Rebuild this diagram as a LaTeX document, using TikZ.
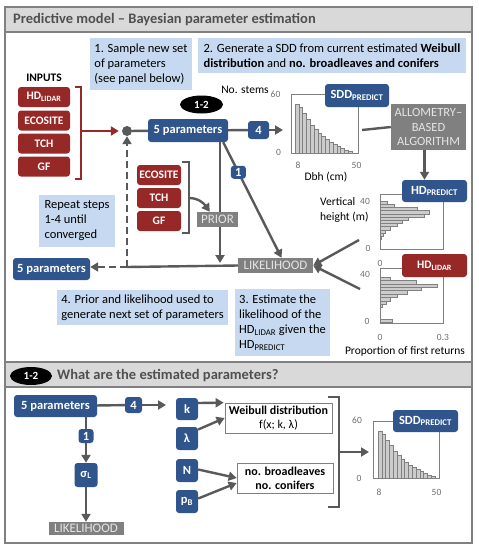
\documentclass[tikz,border=0pt]{standalone}
\usepackage{fontspec}
\setmainfont{Carlito}
\usetikzlibrary{arrows.meta,calc,shapes.geometric}
\pgfdeclarelayer{background}
\pgfsetlayers{background,main}
\definecolor{myblue}{RGB}{47,85,140}
\definecolor{myred}{RGB}{150,40,40}
\definecolor{mygray}{RGB}{128,128,128}
\definecolor{lblue}{RGB}{198,217,240}
\definecolor{titlegray}{RGB}{217,217,217}
\definecolor{darkline}{RGB}{89,89,89}
\definecolor{barfill}{RGB}{204,204,204}
\definecolor{ticklab}{RGB}{110,110,110}
\definecolor{titletext}{RGB}{80,80,80}
\newcommand\fsz[2]{\fontsize{#1}{#2}\selectfont}
\tikzset{
  bluebox/.style={fill=myblue, text=white, font=\bfseries\fsz{12.5}{14}, rounded corners=3pt, inner sep=0pt, align=center},
  redbox/.style={fill=myred, text=white, font=\bfseries\fsz{11.5}{13}, rounded corners=3pt, inner sep=0pt},
  graybox/.style={fill=mygray, text=white!90!black, font=\fsz{12.5}{14.5}, inner sep=0pt, align=center},
  notebox/.style={fill=lblue, font=\fsz{12.5}{15}, inner xsep=4pt, inner ysep=0pt, align=left},
  arr/.style={draw=darkline, line width=2.4pt, -{Triangle[length=8pt,width=9pt]}},
  redarr/.style={draw=myred, line width=2.4pt, -{Triangle[length=8pt,width=9pt]}},
  ln/.style={draw=darkline, line width=2.4pt},
  dashedarr/.style={arr, dash pattern=on 7pt off 4pt},
  ticklbl/.style={text=ticklab, font=\fsz{9.5}{11}, inner sep=0pt},
  axlab/.style={font=\fsz{11.5}{15}, inner sep=0pt, align=left},
  histframe/.style={draw=mygray, line width=0.7pt},
  histbar/.style={fill=barfill, draw=mygray, line width=0.4pt},
  whitebox/.style={draw=mygray, fill=white, line width=0.7pt, font=\fsz{12}{14}, align=center, inner sep=0pt},
  blackell/.style={ellipse, fill=black, text=white, font=\bfseries\fsz{11}{13}, inner sep=0pt},
  paneltitle/.style={text=titletext, font=\bfseries\fsz{14.5}{16}, inner sep=0pt, anchor=west},
}
\begin{document}
\begin{tikzpicture}[x=1pt,y=-1pt]
\useasboundingbox (0,0) rectangle (479,550);
% panels
\fill[titlegray] (5,7) rectangle (472,32);
\fill[titlegray] (5,362) rectangle (472,387);
\draw[mygray, line width=1.8pt] (5,7) rectangle (472,543);
\draw[mygray, line width=1.8pt] (5,32) -- (472,32) (5,362) -- (472,362) (5,387) -- (472,387);
\node[paneltitle] (t1) at (13,20) {Predictive model – Bayesian parameter estimation};
\node[blackell, minimum width=42pt, minimum height=18pt] (e12b) at (31,376) {1-2};
\node[paneltitle] (t2) at (57,376) {What are the estimated parameters?};

% notes
\node[notebox, minimum width=102pt, minimum height=52pt] (n1) at (141,64) {1. Sample new set\\of parameters\\(see panel below)};
\node[notebox, minimum width=268pt, minimum height=35pt] (n2) at (332,55.5) {2. Generate a SDD from current estimated \textbf{Weibull}\\\textbf{distribution} and \textbf{no. broadleaves and conifers}};
\node[notebox, minimum width=76pt, minimum height=52pt] (nrep) at (77,221) {Repeat steps\\1-4 until\\converged};
\node[notebox, minimum width=171pt, minimum height=35pt] (n4) at (142.5,307.5) {4. Prior and likelihood used to\\generate next set of parameters};
\node[notebox, minimum width=95pt, minimum height=67pt] (n3) at (282.5,322.5) {3. Estimate the\\likelihood of the\\HD\textsubscript{LIDAR} given the\\HD\textsubscript{PREDICT}};

% histogram SDD (top)
\foreach \h [count=\i from 0] in {49,46,40,34,28,24,20,17,14,11,9,7,5,3,2}
  {\draw[histbar] (295+\i*3.8,153) rectangle ++(3.8,-\h);}
\draw[histframe] (291,94) rectangle (358,153);
% histogram SDD (bottom)
\foreach \h [count=\i from 0] in {47,44,38,33,27,23,19,16,13,11,9,7,5,3,2}
  {\draw[histbar] (378+\i*3.8,478) rectangle ++(3.8,-\h);}
\draw[histframe] (373,421) rectangle (439,478);
% height histogram predicted
\foreach \l [count=\i from 0] in {7,14,37,49,44,28,22,17,10,5,3,1}
  {\draw[histbar] (380,201+\i*3.2) rectangle ++(\l,3.2);}
\draw[histframe] (380,194) rectangle (443,249);
% height histogram lidar
\foreach \l [count=\i from 0] in {10,36,57,41,27,17,10,6,2}
  {\draw[histbar] (380,277+\i*3.4) rectangle ++(\l,3.4);}
\draw[histbar] (380,319) rectangle ++(12,3.5);
\draw[histframe] (380,268) rectangle (443,323);

% axis labels
\node[axlab] (nst) at (245,90) {No. stems};
\node[ticklbl] (s60) at (275.5,94) {60};
\node[ticklbl] (s0) at (278.5,152) {0};
\node[ticklbl] (s8) at (298,165) {8};
\node[ticklbl] (s50) at (356.5,165) {50};
\node[axlab] (dbh) at (326,177) {Dbh (cm)};
\node[axlab, anchor=north west] (vh) at (320,197) {Vertical\\height (m)};
\node[ticklbl] (v40a) at (365,201) {40};
\node[ticklbl] (v0a) at (368,248) {0};
\node[ticklbl] (x0a) at (380,263) {0};
\node[ticklbl] (v40b) at (365,274) {40};
\node[ticklbl] (v0b) at (367,321) {0};
\node[ticklbl] (x0b) at (380,337) {0};
\node[ticklbl] (x03) at (443,337) {0.3};
\node[axlab] (prop) at (405,351) {Proportion of first returns};
\node[ticklbl] (b60) at (357,420) {60};
\node[ticklbl] (b0) at (359,478) {0};
\node[ticklbl] (b8) at (379,492) {8};
\node[ticklbl] (b50) at (436.5,492) {50};

% inputs
\node[font=\bfseries\fsz{11.5}{13}, inner sep=0pt] (inp) at (44,78) {INPUTS};
\node[redbox, minimum width=52pt, minimum height=20pt] (hdin) at (44,97) {HD\textsubscript{LIDAR}};
\node[redbox, minimum width=52pt, minimum height=20pt] (eco1) at (44,120.5) {ECOSITE};
\node[redbox, minimum width=52pt, minimum height=20pt] (tch1) at (44,143.5) {TCH};
\node[redbox, minimum width=52pt, minimum height=20pt] (gf1) at (44,166.5) {GF};
\node[redbox, minimum width=44pt, minimum height=20pt] (eco2) at (159,175) {ECOSITE};
\node[redbox, minimum width=44pt, minimum height=20pt] (tch2) at (159,198) {TCH};
\node[redbox, minimum width=44pt, minimum height=20pt] (gf2) at (159,221) {GF};

% main nodes panel 1
\node[circle, fill=darkline, minimum size=10pt, inner sep=0pt] (dot) at (127,131) {};
\node[blackell, minimum width=43pt, minimum height=18pt] (e12a) at (201.5,104.5) {1-2};
\node[bluebox, minimum width=80pt, minimum height=23pt] (p5a) at (188,130.5) {5 parameters};
\node[bluebox, minimum width=21pt, minimum height=18pt] (b4a) at (258.5,130) {4};
\node[bluebox, minimum width=64pt, minimum height=23pt] (sddA) at (357,95.5) {SDD\textsubscript{PREDICT}};
\node[graybox, minimum width=75pt, minimum height=46pt] (allom) at (428.5,127) {ALLOMETRY–\\BASED\\ALGORITHM};
\node[bluebox, minimum width=65pt, minimum height=22pt] (hdp) at (434.5,191) {HD\textsubscript{PREDICT}};
\node[redbox, minimum width=65pt, minimum height=23pt] (hdl) at (434.5,265.5) {HD\textsubscript{LIDAR}};
\node[graybox, minimum width=41pt, minimum height=15pt, font=\fsz{13}{15}] (prior) at (217.5,219.5) {PRIOR};
\node[graybox, minimum width=75pt, minimum height=15pt, font=\fsz{13}{15}] (lik) at (275.5,265.5) {LIKELIHOOD};
\node[bluebox, minimum width=77pt, minimum height=22pt] (p5b) at (51.5,269) {5 parameters};

% panel 2 nodes
\node[bluebox, minimum width=83pt, minimum height=22pt] (p5c) at (55.5,406) {5 parameters};
\node[bluebox, minimum width=17pt, minimum height=16pt] (b4c) at (133.5,405) {4};
\node[bluebox, minimum width=15pt, minimum height=14pt] (b1c) at (86,436) {1};
\node[bluebox, minimum width=23pt, minimum height=24pt] (sig) at (86,475) {σ\textsubscript{L}};
\node[graybox, minimum width=75pt, minimum height=13pt, font=\fsz{13}{15}] (likC) at (86,528.5) {LIKELIHOOD};
\node[bluebox, minimum width=22pt, minimum height=22pt] (k) at (187,409) {k};
\node[bluebox, minimum width=22pt, minimum height=23pt] (lam) at (187,438.5) {λ};
\node[bluebox, minimum width=22pt, minimum height=23pt] (N) at (187,470.5) {N};
\node[bluebox, minimum width=22pt, minimum height=23pt] (pB) at (187,501.5) {p\textsubscript{B}};
\node[whitebox, minimum width=107pt, minimum height=30pt] (wb) at (278.5,418) {\textbf{Weibull distribution}\\f(x; k, λ)};
\node[whitebox, minimum width=96pt, minimum height=30pt] (nb) at (285,478) {\textbf{no. broadleaves}\\\textbf{no. conifers}};
\node[bluebox, minimum width=65pt, minimum height=22pt] (sddC) at (425.5,421) {SDD\textsubscript{PREDICT}};

% coordinates
\coordinate (brA) at (81,131);
\coordinate (h1tip) at (283,130);
\coordinate (prtip) at (220,263);
\coordinate (junc) at (127,267);
\coordinate (br2) at (189,198);
\coordinate (hline) at (362,130);
\coordinate (hA) at (359,240);
\coordinate (hB) at (360,289);
\coordinate (kt) at (166,405);
\coordinate (br3) at (339,452);
\coordinate (h3tip) at (369,452);
\coordinate (aS) at ($(allom.south)+(-4,0)$);
\coordinate (prN) at ($(prior.north west)+(13,0)$);

\begin{pgfonlayer}{background}
% brackets
\draw[myred, line width=2.4pt] (75,87) -- (81,87) -- (81,179) -- (75,179);
\draw[darkline, line width=2.2pt] (182,162) -- (189,162) -- (189,233) -- (182,233);
\draw[darkline, line width=2.2pt] (328,397) -- (339,397) -- (339,507) -- (328,507);
% panel 1 connectors
\draw[redarr, shorten >=3pt] (brA) -- (dot);
\draw[ln] (dot) -- (p5a);
\draw[ln] (p5a) -- (b4a);
\draw[arr] (b4a) -- (h1tip);
\draw[arr] ($(p5a.south east)+(-5,0)$) -- node[bluebox, minimum width=15pt, minimum height=13pt, pos=0.26] (b1a) {1} ($(lik.north)+(6,0)$);
\draw[arr] (p5a.south -| prtip) -- (prtip);
\draw[arr] (br2) to[out=0, in=125] (prN);
\draw[ln] (lik.west) -- (junc);
\draw[dashedarr] (junc) -- (junc -| p5b.east);
\draw[dashedarr] (junc) -- (dot);
\draw[ln] (hline) -- (allom.west);
\draw[arr] (aS) -- (aS |- hdp.north);
\draw[arr] (hA) -- (lik.east);
\draw[arr] (hB) -- (lik.east);
% panel 2 connectors
\draw[ln] (p5c) -- (b4c);
\draw[arr] (b4c) -- (kt);
\draw[ln] (b1c |- p5c.south) -- (b1c);
\draw[arr] (b1c) -- (sig);
\draw[arr] (sig) -- (likC);
\draw[arr] ($(k.east)+(0,-6)$) -- ($(wb.north west)+(-1,0)$);
\draw[arr] ($(lam.east)+(0,-9)$) -- (wb.west);
\draw[arr] ($(N.east)+(0,-1)$) -- (nb.west);
\draw[arr] ($(pB.east)+(0,-3)$) -- ($(nb.west)+(0,5)$);
\draw[arr] (br3) -- (h3tip);
\end{pgfonlayer}
\end{tikzpicture}
\end{document}
